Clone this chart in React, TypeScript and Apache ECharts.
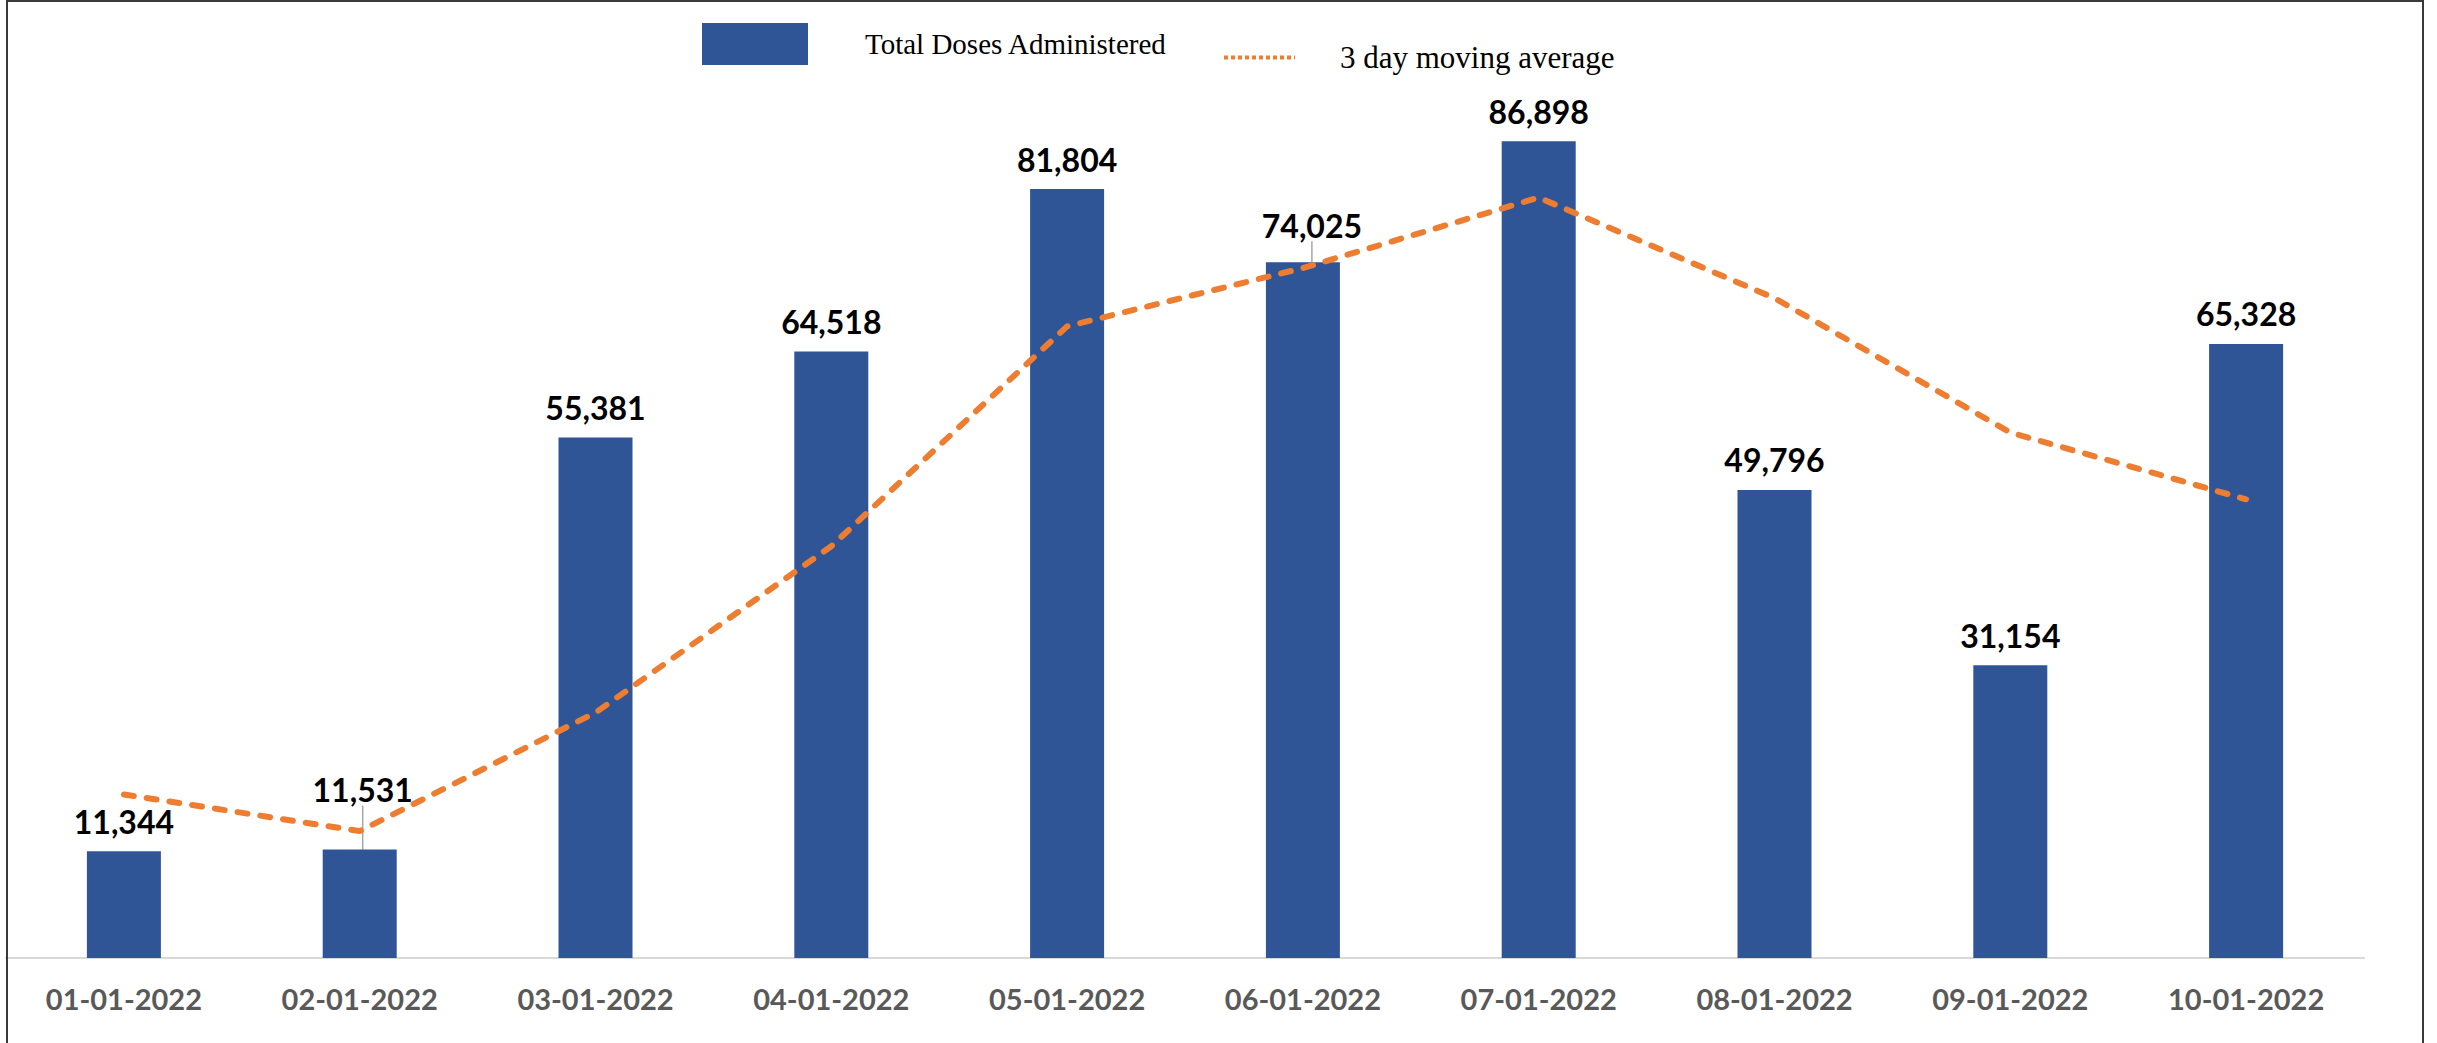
import React, { useEffect, useRef } from "react";
import * as echarts from "echarts";

const categories = [
  "01-01-2022", "02-01-2022", "03-01-2022", "04-01-2022", "05-01-2022",
  "06-01-2022", "07-01-2022", "08-01-2022", "09-01-2022", "10-01-2022",
];
const totalDoses = [11344, 11531, 55381, 64518, 81804, 74025, 86898, 49796, 31154, 65328];
const movingAverage = [17400, 13500, 26100, 43800, 67200, 73400, 80900, 70200, 55900, 48800];

const BAR_NAME = "Total Doses Administered";
const LINE_NAME = "3 day moving average";

export default function App() {
  const ref = useRef<HTMLDivElement>(null);

  useEffect(() => {
    if (!ref.current) return;
    const chart = echarts.init(ref.current, null, { renderer: "svg" });
    const labelFont = 'Lato, "Open Sans", sans-serif';
    const serif = '"Liberation Serif", "Times New Roman", serif';

    chart.setOption({
      animation: false,
      backgroundColor: "#ffffff",
      grid: { left: 6, right: 73, top: 18, bottom: 85, containLabel: false },
      legend: [
        {
          data: [{ name: BAR_NAME, icon: "rect" }],
          left: 702,
          top: 23,
          padding: 0,
          itemWidth: 106,
          itemHeight: 42,
          textStyle: { fontFamily: serif, fontSize: 29, color: "#000", padding: [6, 0, 0, 52] },
        },
        {
          data: [LINE_NAME],
          left: 1222,
          top: 42,
          padding: 0,
          itemWidth: 71,
          itemHeight: 14,
          lineStyle: { type: [4, 3], width: 4, cap: "butt", color: "#ED7D31" },
          itemStyle: { opacity: 0, color: "rgba(0,0,0,0)", borderWidth: 0 },
          textStyle: { fontFamily: serif, fontSize: 31, color: "#000", padding: [0, 0, 0, 40] },
        },
      ],
      xAxis: {
        type: "category",
        data: categories,
        axisLine: { show: true, lineStyle: { color: "#D9D9D9", width: 2 } },
        axisTick: { show: false },
        axisLabel: {
          margin: 26,
          fontFamily: labelFont,
          fontWeight: "bold",
          fontSize: 29,
          color: "#595959",
        },
        splitLine: { show: false },
      },
      yAxis: {
        type: "value",
        min: 0,
        max: 100000,
        show: false,
        splitLine: { show: false },
      },
      series: [
        {
          name: BAR_NAME,
          type: "bar",
          barWidth: 74,
          itemStyle: { color: "#2F5597" },
          data: totalDoses.map((v, i) => ({
            value: v,
            labelLine: { show: i === 1 || i === 5 },
          })),
          label: {
            show: true,
            position: "top",
            distance: 14,
            fontFamily: labelFont,
            fontWeight: "bold",
            fontSize: 32,
            color: "#000",
            formatter: (p: any) => Number(p.value).toLocaleString("en-US"),
          },
          labelLine: { lineStyle: { color: "#A6A6A6", width: 1.5 } },
          labelLayout: (p: any) => {
            if (p.dataIndex === 1) return { dx: 3, dy: -30 };
            if (p.dataIndex === 5) return { dx: 9, dy: -7 };
            return {};
          },
          z: 1,
        },
        {
          name: LINE_NAME,
          type: "line",
          data: movingAverage,
          symbol: "none",
          smooth: false,
          lineStyle: { color: "#ED7D31", width: 6, type: [10, 13], cap: "round" },
          itemStyle: { color: "#ED7D31" },
          z: 3,
        },
      ],
      graphic: [
        {
          type: "rect",
          shape: { x: 7, y: 1, width: 2416, height: 1060 },
          style: { fill: "none", stroke: "#3a3a3a", lineWidth: 2 },
          silent: true,
          z: 100,
        },
      ],
    });

    return () => chart.dispose();
  }, []);

  return (
    <div
      ref={ref}
      style={{ position: "fixed", left: 0, top: 0, width: 2437, height: 1043, background: "#fff" }}
    />
  );
}
